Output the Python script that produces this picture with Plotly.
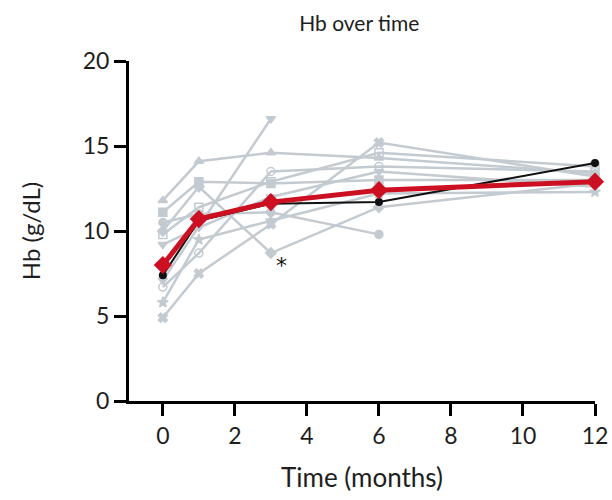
import plotly.graph_objects as go

# Individual patients (gray)
patients = [
    {"months": [0, 1, 3, 6, 12], "hb": [11.8, 14.1, 14.6, 14.3, 13.4], "symbol": "triangle-up"},
    {"months": [0, 1, 3, 6, 12], "hb": [11.1, 12.9, 12.8, 13.0, 13.0], "symbol": "square"},
    {"months": [0, 1, 3, 6], "hb": [10.5, 11.0, 11.1, 9.8], "symbol": "circle"},
    {"months": [0, 1, 3, 6, 12], "hb": [9.2, 10.2, 12.0, 13.5, 12.6], "symbol": "triangle-down"},
    {"months": [0, 1, 3, 6, 12], "hb": [6.7, 8.7, 13.5, 13.8, 13.5], "symbol": "circle-open"},
    {"months": [0, 1, 3, 6, 12], "hb": [5.8, 9.5, 10.6, 12.2, 12.3], "symbol": "star"},
    {"months": [0, 1, 3, 6, 12], "hb": [4.9, 7.5, 10.4, 15.2, 13.2], "symbol": "x"},
    {"months": [0, 3], "hb": [7.1, 16.6], "symbol": "triangle-down"},
    {"months": [0, 1, 3, 6, 12], "hb": [10.0, 12.6, 8.7, 11.4, 12.8], "symbol": "diamond"},
    {"months": [0, 1, 3, 6, 12], "hb": [9.8, 11.4, 12.9, 14.6, 13.8], "symbol": "square-open"},
]

black_months = [0, 1, 3, 6, 12]
black_hb = [7.4, 10.6, 11.6, 11.7, 14.0]

mean_months = [0, 1, 3, 6, 12]
mean_hb = [8.0, 10.7, 11.7, 12.4, 12.9]

x_ticks = [0, 2, 4, 6, 8, 10, 12]
y_ticks = [0, 5, 10, 15, 20]

GRAY = "#c3cbd1"
TXT = "#1e1e1e"
fig = go.Figure()
for p in patients:
    fig.add_trace(go.Scatter(
        x=p["months"], y=p["hb"], mode="lines+markers",
        line=dict(color=GRAY, width=2.5),
        marker=dict(symbol=p["symbol"], size=8, color=GRAY,
                    line=dict(color=GRAY, width=1.5)),
        cliponaxis=False, showlegend=False))

fig.add_trace(go.Scatter(
    x=black_months, y=black_hb, mode="lines+markers",
    line=dict(color="#111111", width=2),
    marker=dict(symbol="circle", size=8, color="#111111"),
    cliponaxis=False, showlegend=False))

fig.add_trace(go.Scatter(
    x=mean_months, y=mean_hb, mode="lines+markers",
    line=dict(color="#cc1022", width=5),
    marker=dict(symbol="diamond", size=14, color="#cc1022"),
    cliponaxis=False, showlegend=False))

fig.add_annotation(x=3.3, y=8.0, text="*", showarrow=False,
                   font=dict(size=22, color="#111111", family="DejaVu Sans"))

fig.update_layout(
    width=612, height=500,
    margin=dict(l=129, r=17, t=61, b=99, autoexpand=False),
    paper_bgcolor="white", plot_bgcolor="white",
    title=dict(text="Hb over time", x=0.587, xanchor="center", y=0.952, yanchor="middle",
               font=dict(family="Lato", size=21, color=TXT)),
    xaxis=dict(range=[-0.94, 12], tickvals=x_ticks, ticktext=[str(v) for v in x_ticks],
               showline=True, linecolor="black", linewidth=3, automargin=False,
               ticks="outside", ticklen=12, tickwidth=3, tickcolor="black",
               showgrid=False, zeroline=False,
               tickfont=dict(family="Lato", size=23, color=TXT),
               title=dict(text="Time (months)", standoff=22,
                          font=dict(family="Lato", size=26, color=TXT))),
    yaxis=dict(range=[0, 20], tickvals=y_ticks, ticktext=[str(v) for v in y_ticks],
               showline=True, linecolor="black", linewidth=3, automargin=False,
               ticks="outside", ticklen=12, tickwidth=3, tickcolor="black",
               showgrid=False, zeroline=False,
               tickfont=dict(family="Lato", size=23, color=TXT),
               title=dict(text="Hb (g/dL)", standoff=36,
                          font=dict(family="Lato", size=24, color=TXT))),
)

fig.write_html("out.html")
